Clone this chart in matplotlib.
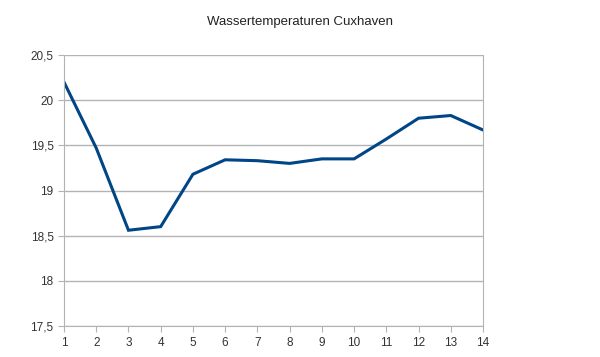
import matplotlib
matplotlib.use('Agg')
import matplotlib.pyplot as plt
from matplotlib.ticker import FuncFormatter

days = list(range(1, 15))
temps = [20.2, 19.47, 18.56, 18.6, 19.18, 19.34, 19.33, 19.3, 19.35, 19.35,
         19.57, 19.8, 19.83, 19.67]
y_ticks = [17.5, 18, 18.5, 19, 19.5, 20, 20.5]

plt.rcParams['font.family'] = ['Liberation Sans', 'DejaVu Sans']

fig = plt.figure(figsize=(6, 3.57), dpi=100)
ax = fig.add_axes([64 / 600, 1 - 326 / 357, (483 - 64) / 600, (326 - 55) / 357])

ax.plot(days, temps, color='#004586', linewidth=2.2, solid_joinstyle='miter')

ax.set_xlim(1, 14)
ax.set_ylim(17.5, 20.5)
ax.set_xticks(days)
ax.set_yticks(y_ticks)
ax.yaxis.set_major_formatter(FuncFormatter(lambda v, p: f'{v:g}'.replace('.', ',')))
ax.grid(axis='y', color='#b3b3b3', linewidth=1)
ax.set_axisbelow(True)

for side in ['left', 'bottom', 'right']:
    ax.spines[side].set_color('#b3b3b3')
ax.spines['top'].set_visible(False)
ax.tick_params(colors='#b3b3b3', labelcolor='#333333', labelsize=8.5, length=4)
ax.tick_params(axis='x', pad=4)

fig.suptitle('Wassertemperaturen Cuxhaven', y=0.955, fontsize=9.5, color='#222222')

fig.savefig('out.png', dpi=100)
